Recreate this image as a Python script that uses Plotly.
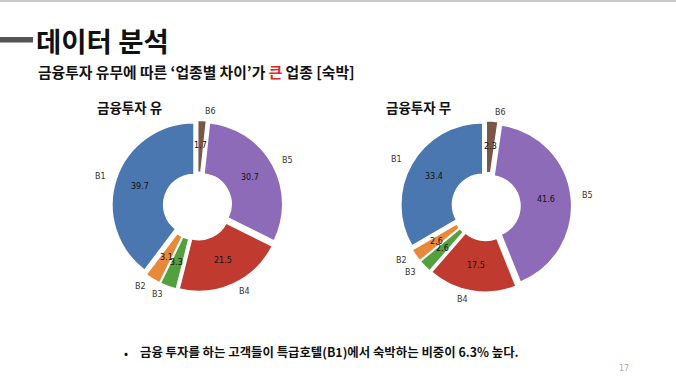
import math
import plotly.graph_objects as go

# ---- data ----
categories = ["B1", "B2", "B3", "B4", "B5", "B6"]
values_yes = [39.7, 3.1, 3.3, 21.5, 30.7, 1.7]   # 금융투자 유
values_no = [33.4, 2.6, 2.6, 17.5, 41.6, 2.3]    # 금융투자 무
slice_colors = ["#4a77b0", "#e8893a", "#55a03e", "#c13a30", "#8d6bb8", "#7c5549"]

title_text = "데이터 분석"
subtitle_parts = ["금융투자 유무에 따른 ‘업종별 차이’가 ", "큰", " 업종 [숙박]"]
pie_titles = ["금융투자 유", "금융투자 무"]
bullet_text = "금융 투자를 하는 고객들이 특급호텔(B1)에서 숙박하는 비중이 6.3% 높다."
page_no = "17"

W, H = 676, 383
PULL = 0.045
R = 82.0
centers = [(197.5, 206.0), (486.0, 206.5)]


def px(x):
    return x / W


def py(y):
    return 1 - y / H


fig = go.Figure()
annotations = []
KR = "Noto Sans CJK KR"

for (cx, cy), vals, ptitle in zip(centers, [values_yes, values_no], pie_titles):
    half = R * (1 + PULL)
    total = sum(vals)
    fig.add_trace(go.Pie(
        labels=categories, values=vals, sort=False,
        direction="counterclockwise", rotation=-360 * vals[0] / total,
        hole=0.37, pull=[PULL] * len(vals),
        marker=dict(colors=slice_colors, line=dict(color="white", width=1.5)),
        textinfo="none", hoverinfo="label+value", showlegend=False,
        domain=dict(x=[px(cx - half), px(cx + half)], y=[py(cy + half), py(cy - half)]),
    ))
    cum = 0.0
    for lab, v in zip(categories, vals):
        mid = 90 + 360 * (cum + v / 2) / total
        cum += v
        c, s = math.cos(math.radians(mid)), math.sin(math.radians(mid))
        lx, ly = cx + 1.15 * R * c, cy - 1.15 * R * s
        annotations.append(dict(
            x=px(lx), y=py(ly), xref="paper", yref="paper", text=lab, showarrow=False,
            xanchor="right" if c < 0 else "left", yanchor="middle",
            font=dict(family="DejaVu Sans", size=8, color="#333333")))
        vx, vy = cx + 0.735 * R * c, cy - 0.735 * R * s
        annotations.append(dict(
            x=px(vx), y=py(vy), xref="paper", yref="paper", text=f"{v:.1f}", showarrow=False,
            xanchor="center", yanchor="middle",
            font=dict(family="DejaVu Sans", size=8, color="#111111")))

# pie titles
annotations.append(dict(x=px(95), y=py(107), xref="paper", yref="paper", text=f"<b>{pie_titles[0]}</b>",
                        showarrow=False, xanchor="left", yanchor="middle",
                        font=dict(family=KR, size=13.5, color="#111111")))
annotations.append(dict(x=px(384), y=py(107), xref="paper", yref="paper", text=f"<b>{pie_titles[1]}</b>",
                        showarrow=False, xanchor="left", yanchor="middle",
                        font=dict(family=KR, size=13.5, color="#111111")))

# slide title
annotations.append(dict(x=px(34), y=py(40), xref="paper", yref="paper", text=f"<b>{title_text}</b>",
                        showarrow=False, xanchor="left", yanchor="middle",
                        font=dict(family=KR, size=27.5, color="#111111")))
sub = (f"<b>{subtitle_parts[0]}<span style='color:#e0281e'>{subtitle_parts[1]}</span>"
       f"{subtitle_parts[2]}</b>")
annotations.append(dict(x=px(36), y=py(71.5), xref="paper", yref="paper", text=sub,
                        showarrow=False, xanchor="left", yanchor="middle",
                        font=dict(family=KR, size=14.8, color="#111111")))

# bullet
annotations.append(dict(x=px(122), y=py(352), xref="paper", yref="paper", text="•",
                        showarrow=False, xanchor="left", yanchor="middle",
                        font=dict(family=KR, size=12, color="#111111")))
annotations.append(dict(x=px(138), y=py(352), xref="paper", yref="paper", text=f"<b>{bullet_text}</b>",
                        showarrow=False, xanchor="left", yanchor="middle",
                        font=dict(family=KR, size=12.4, color="#111111")))
annotations.append(dict(x=px(624), y=py(368), xref="paper", yref="paper", text=page_no,
                        showarrow=False, xanchor="center", yanchor="middle",
                        font=dict(family="DejaVu Sans", size=8, color="#aaaaaa")))

shapes = [
    dict(type="line", xref="paper", yref="paper", x0=0, x1=1, y0=py(1), y1=py(1),
         line=dict(color="#c8c8c8", width=2)),
    dict(type="rect", xref="paper", yref="paper", x0=0, x1=px(33), y0=py(42.5), y1=py(37),
         fillcolor="#555555", line=dict(width=0)),
]

fig.update_layout(
    width=W, height=H, margin=dict(l=0, r=0, t=0, b=0),
    paper_bgcolor="white", plot_bgcolor="white",
    annotations=annotations, shapes=shapes,
)
fig.write_html("out.html", config={"displayModeBar": False},
               post_script="document.body.style.margin='0';")
